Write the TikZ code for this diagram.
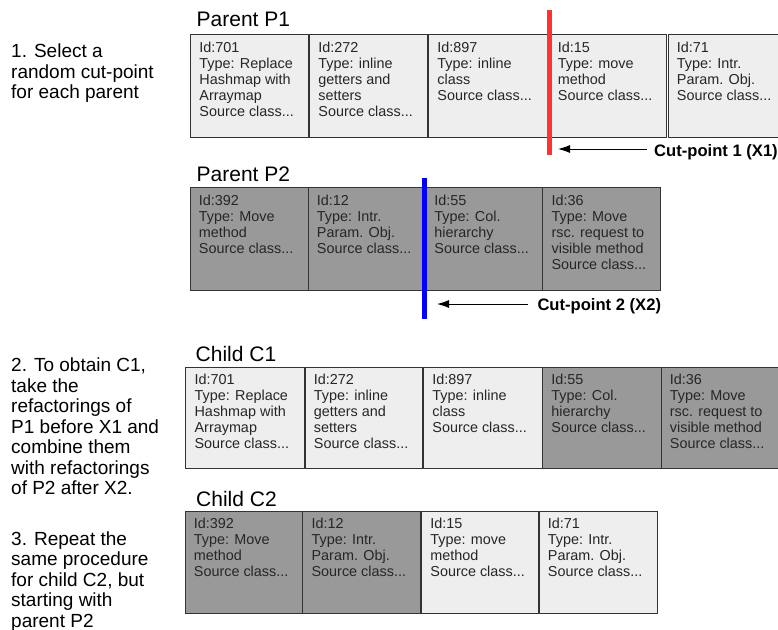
\documentclass[tikz,border=0pt]{standalone}
\usepackage{fontspec}
\setmainfont{Liberation Sans}
\usetikzlibrary{arrows.meta,calc}
\definecolor{lightbox}{HTML}{EEEEEE}
\definecolor{darkbox}{HTML}{999999}
\definecolor{boxline}{HTML}{333333}
\definecolor{cutred}{HTML}{FF3333}
\definecolor{cutblue}{HTML}{0000FF}
\newcommand\toplines[1]{\begin{tabular}[t]{@{}l@{}}#1\end{tabular}}
\tikzset{
  lbox/.style={draw=boxline, fill=lightbox, line width=1pt, inner sep=0pt, outer sep=0pt, anchor=north west},
  dbox/.style={draw=boxline, fill=darkbox, line width=1pt, inner sep=0pt, outer sep=0pt, anchor=north west},
  boxtext/.style={inner sep=0pt, anchor=base west, text=black!85, font=\fontsize{14.4}{16}\selectfont},
  rowtitle/.style={inner sep=0pt, anchor=base west, font=\fontsize{21}{24}\selectfont},
  note/.style={inner sep=0pt, anchor=base west, font=\fontsize{19}{20.5}\selectfont},
  cutlabel/.style={inner sep=0pt, anchor=base west, font=\fontsize{16.6}{19}\selectfont\bfseries},
  redcut/.style={draw=cutred, line width=5pt},
  bluecut/.style={draw=cutblue, line width=5pt},
  cutarrow/.style={-{Latex[length=12pt,width=8pt]}, line width=1pt}
}
\newcommand\refbox[7]{%
  \node[#6, minimum width=#4pt, minimum height=#5pt] (#1) at (#2,#3) {};
  \node[boxtext] (#1t) at ($(#1.north west)+(8.7,17.5)$) {\toplines{#7}};}
\begin{document}
\begin{tikzpicture}[x=1pt,y=-1pt]
\useasboundingbox (0,0) rectangle (778,629);
\clip (0,0) rectangle (778,629);

% left notes
\node[note] (n1) at (11,57.7) {\toplines{1. Select a\\random cut-point\\for each parent}};
\node[note] (n2) at (11,371.7) {\toplines{2. To obtain C1,\\take the\\refactorings of\\P1 before X1 and\\combine them\\with refactorings\\of P2 after X2.}};
\node[note] (n3) at (11,545) {\toplines{3. Repeat the\\same procedure\\for child C2, but\\starting with\\parent P2}};

% titles
\node[rowtitle] (tp1) at (196.5,26.7) {Parent P1};
\node[rowtitle] (tp2) at (196.5,181.7) {Parent P2};
\node[rowtitle] (tc1) at (195.5,361.7) {Child C1};
\node[rowtitle] (tc2) at (196,506.7) {Child C2};

% Parent P1
\refbox{p1a}{190.5}{34.5}{118}{102.5}{lbox}{Id:701\\Type: Replace\\Hashmap with\\Arraymap\\Source class...}
\refbox{p1b}{309.5}{34.5}{117.5}{102.5}{lbox}{Id:272\\Type: inline\\getters and\\setters\\Source class...}
\refbox{p1c}{428.5}{34.5}{119.5}{102.5}{lbox}{Id:897\\Type: inline\\class\\Source class...}
\refbox{p1d}{549}{34.5}{117}{102.5}{lbox}{Id:15\\Type: move\\method\\Source class...}
\refbox{p1e}{668}{34.5}{120}{102.5}{lbox}{Id:71\\Type: Intr.\\Param. Obj.\\Source class...}

% Parent P2
\refbox{p2a}{190}{187.7}{118}{103}{dbox}{Id:392\\Type: Move\\method\\Source class...}
\refbox{p2b}{308}{187.7}{117.5}{103}{dbox}{Id:12\\Type: Intr.\\Param. Obj.\\Source class...}
\refbox{p2c}{425.5}{187.7}{117.2}{103}{dbox}{Id:55\\Type: Col.\\hierarchy\\Source class...}
\refbox{p2d}{542.7}{187.7}{118}{103}{dbox}{Id:36\\Type: Move\\rsc. request to\\visible method\\Source class...}

% Child C1
\refbox{c1a}{185.7}{367}{118.3}{101}{lbox}{Id:701\\Type: Replace\\Hashmap with\\Arraymap\\Source class...}
\refbox{c1b}{305}{367}{117.5}{101}{lbox}{Id:272\\Type: inline\\getters and\\setters\\Source class...}
\refbox{c1c}{423.5}{367}{119}{101}{lbox}{Id:897\\Type: inline\\class\\Source class...}
\refbox{c1d}{542.5}{367}{118.5}{101}{dbox}{Id:55\\Type: Col.\\hierarchy\\Source class...}
\refbox{c1e}{661}{367}{125}{101}{dbox}{Id:36\\Type: Move\\rsc. request to\\visible method\\Source class...}

% Child C2
\refbox{c2a}{185}{511}{117.7}{102}{dbox}{Id:392\\Type: Move\\method\\Source class...}
\refbox{c2b}{302.7}{511}{118}{102}{dbox}{Id:12\\Type: Intr.\\Param. Obj.\\Source class...}
\refbox{c2c}{421.5}{511}{116.5}{102}{lbox}{Id:15\\Type: move\\method\\Source class...}
\refbox{c2d}{539}{511}{118}{102}{lbox}{Id:71\\Type: Intr.\\Param. Obj.\\Source class...}

% cut-points
\coordinate (x1top) at (549,10);
\coordinate (x1bot) at (549,155);
\coordinate (x2top) at (424.8,178);
\coordinate (x2bot) at (424.8,319);
\draw[redcut] (x1top) -- (x1bot);
\draw[bluecut] (x2top) -- (x2bot);

\node[cutlabel] (cp1) at (654,156.7) {Cut-point 1 (X1)};
\node[cutlabel] (cp2) at (537.3,310) {Cut-point 2 (X2)};
\coordinate (x1tip) at (558,149);
\coordinate (x2tip) at (437,304);
\draw[cutarrow] ($(cp1.west |- x1tip)+(-7,0)$) -- (x1tip);
\draw[cutarrow] ($(cp2.west |- x2tip)+(-9,0)$) -- (x2tip);
\end{tikzpicture}
\end{document}
